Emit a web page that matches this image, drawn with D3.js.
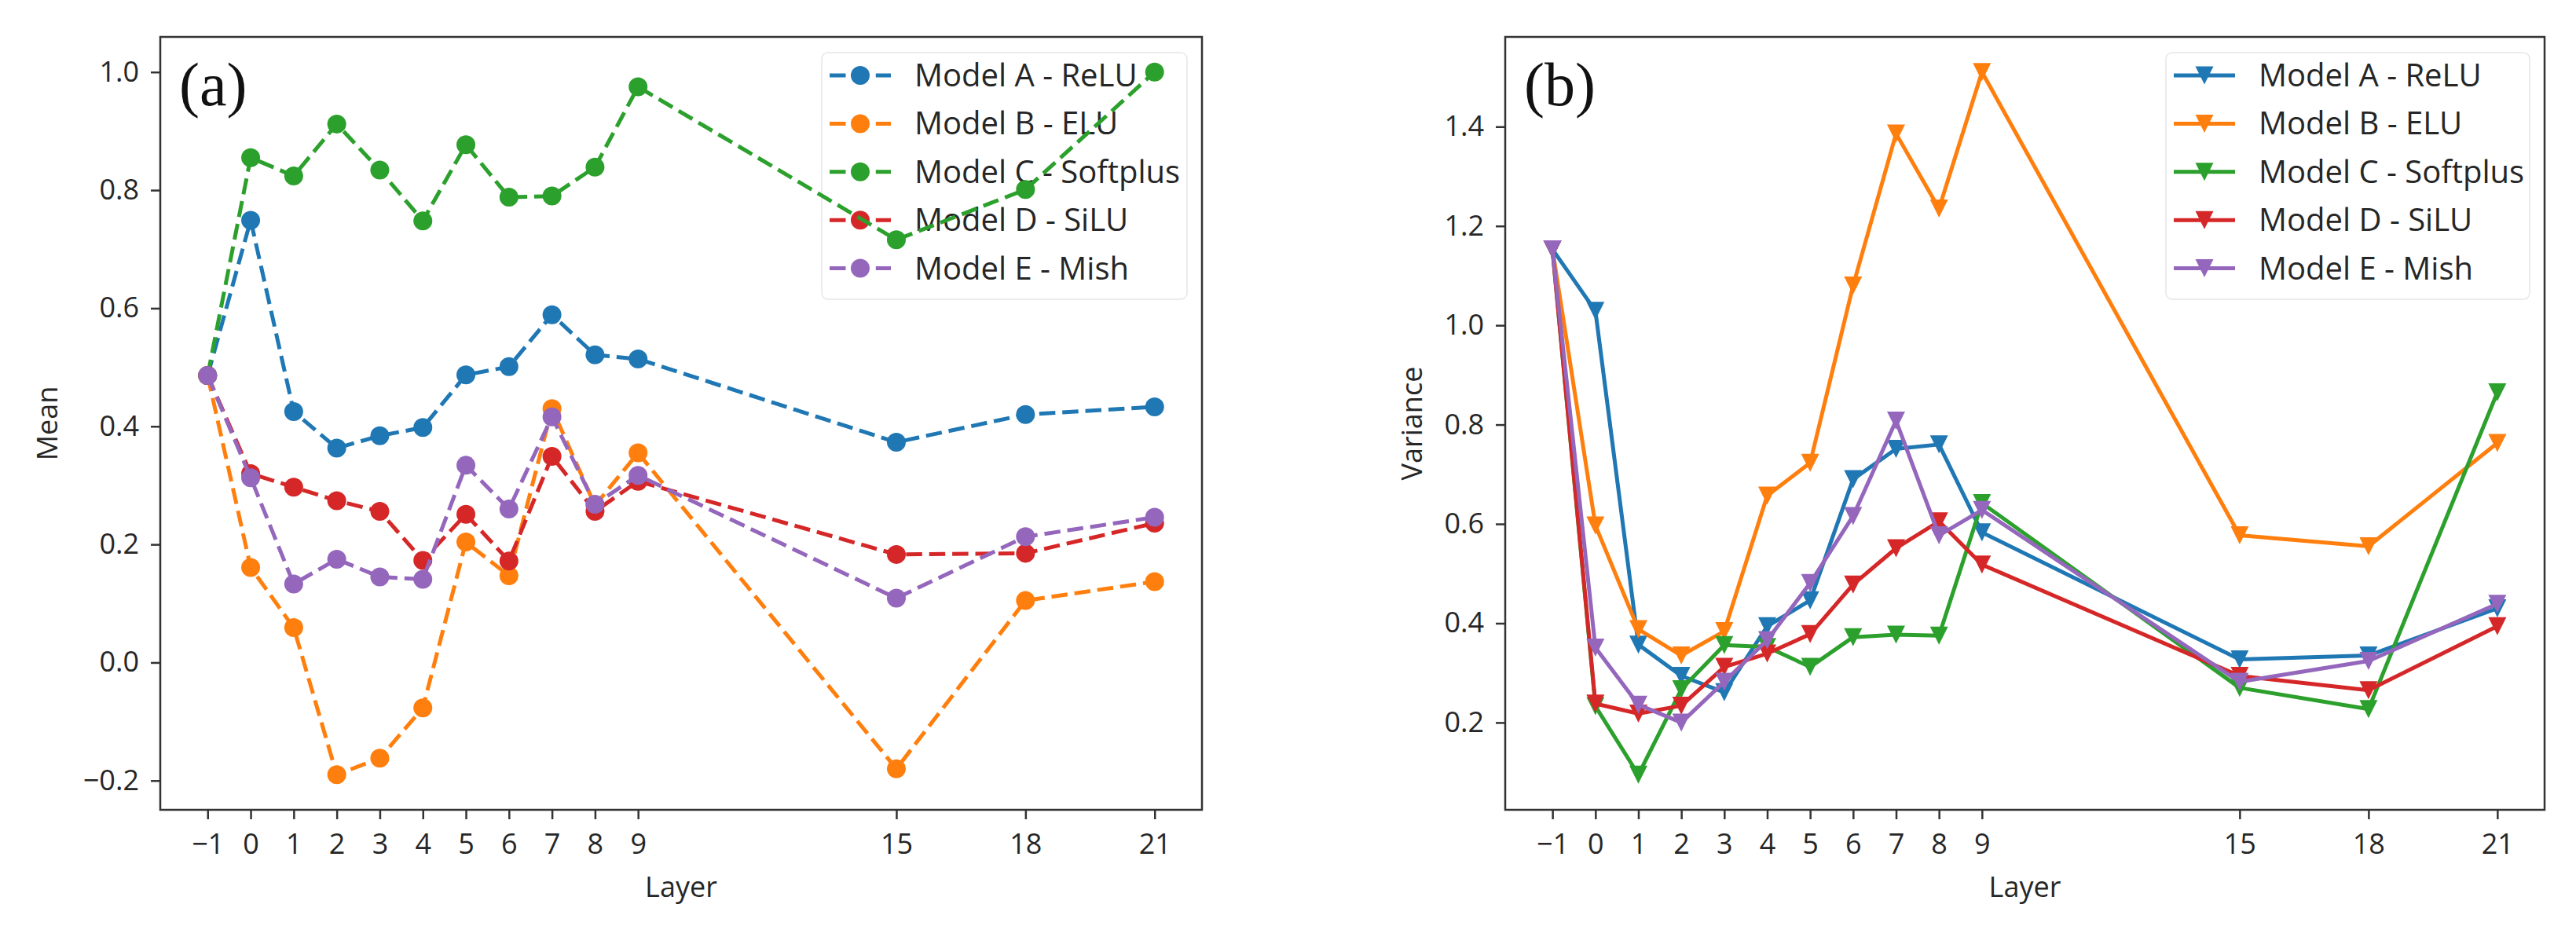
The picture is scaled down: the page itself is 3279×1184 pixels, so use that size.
<html>
<head>
<meta charset="utf-8">
<script src="https://cdn.jsdelivr.net/npm/d3@7"></script>
<style>
  body { margin: 0; background: #fff; }
</style>
</head>
<body>
<div id="chart"></div>
<script>
// ---- data ----
const layers = [-1, 0, 1, 2, 3, 4, 5, 6, 7, 8, 9, 15, 18, 21];
const models = ["Model A - ReLU", "Model B - ELU", "Model C - Softplus", "Model D - SiLU", "Model E - Mish"];

// (a) mean per layer
const meanA = [0.486, 0.749, 0.425, 0.363, 0.384, 0.398, 0.487, 0.501, 0.589, 0.521, 0.514, 0.373, 0.420, 0.433];
const meanB = [0.486, 0.161, 0.059, -0.190, -0.162, -0.077, 0.204, 0.147, 0.430, 0.266, 0.355, -0.180, 0.105, 0.137];
const meanC = [0.486, 0.855, 0.824, 0.912, 0.834, 0.748, 0.877, 0.788, 0.790, 0.839, 0.975, 0.716, 0.801, 1.000];
const meanD = [0.486, 0.320, 0.297, 0.274, 0.256, 0.173, 0.251, 0.172, 0.349, 0.256, 0.307, 0.183, 0.185, 0.236];
const meanE = [0.486, 0.313, 0.133, 0.175, 0.145, 0.141, 0.334, 0.260, 0.416, 0.268, 0.317, 0.109, 0.213, 0.246];

// (b) variance per layer
const varA = [1.153, 1.029, 0.357, 0.294, 0.261, 0.394, 0.446, 0.690, 0.751, 0.760, 0.583, 0.327, 0.335, 0.430];
const varB = [1.153, 0.597, 0.388, 0.335, 0.384, 0.657, 0.723, 1.080, 1.386, 1.235, 1.510, 0.577, 0.555, 0.763];
const varC = [1.153, 0.233, 0.095, 0.267, 0.356, 0.352, 0.312, 0.372, 0.377, 0.375, 0.642, 0.270, 0.227, 0.865];
const varD = [1.153, 0.238, 0.218, 0.234, 0.312, 0.339, 0.378, 0.478, 0.551, 0.605, 0.518, 0.294, 0.265, 0.394];
const varE = [1.153, 0.351, 0.236, 0.200, 0.282, 0.366, 0.481, 0.616, 0.808, 0.577, 0.628, 0.282, 0.324, 0.439];

const meanTicks = [-0.2, 0.0, 0.2, 0.4, 0.6, 0.8, 1.0];
const varTicks = [0.2, 0.4, 0.6, 0.8, 1.0, 1.2, 1.4];

// matplotlib tab10
const colors = ["#1f77b4", "#ff7f0e", "#2ca02c", "#d62728", "#9467bd"];

const svg = d3.select("#chart").append("svg")
    .attr("width", 3279)
    .attr("height", 1184);

const FONT = "'Open Sans', 'Noto Sans', sans-serif";
const INK = "#262626";

// matplotlib style auto limits: 5% margin each side
function padded(ext) {
    const d = (ext[1] - ext[0]) * 0.05;
    return [ext[0] - d, ext[1] + d];
}

function triangle(cx, cy, h) {
    return `M${cx - h},${cy - h}L${cx + h},${cy - h}L${cx},${cy + h}Z`;
}

function drawPanel(p) {
    const x = d3.scaleLinear().domain(padded(d3.extent(layers))).range([p.left, p.right]);
    const y = d3.scaleLinear().domain(padded(d3.extent(p.series.flat()))).range([p.bottom, p.top]);
    const g = svg.append("g");

    // axes
    const xAxis = d3.axisBottom(x).tickValues(layers).tickFormat(d3.format("d"))
        .tickSize(12).tickPadding(18).tickSizeOuter(0);
    const yAxis = d3.axisLeft(y).tickValues(p.ticks).tickFormat(d3.format(".1f"))
        .tickSize(12).tickPadding(15).tickSizeOuter(0);

    [g.append("g").attr("transform", `translate(0,${p.bottom})`).call(xAxis),
     g.append("g").attr("transform", `translate(${p.left},0)`).call(yAxis)].forEach(ax => {
        ax.select(".domain").remove();
        ax.selectAll(".tick line").attr("stroke", "#333").attr("stroke-width", 2.5);
        ax.selectAll(".tick text").attr("fill", INK)
            .style("font-family", FONT).style("font-size", "36px");
    });

    // axis labels
    g.append("text")
        .attr("transform", `translate(${p.left - p.ylabelGap},${(p.top + p.bottom) / 2}) rotate(-90)`)
        .attr("text-anchor", "middle")
        .attr("fill", INK)
        .style("font-family", FONT).style("font-size", "36px")
        .text(p.ylabel);
    g.append("text")
        .attr("x", (p.left + p.right) / 2)
        .attr("y", 1142)
        .attr("text-anchor", "middle")
        .attr("fill", INK)
        .style("font-family", FONT).style("font-size", "36px")
        .text("Layer");

    // legend (lines are drawn over it, as in the source image)
    const lg = g.append("g");
    lg.append("rect")
        .attr("x", p.legend.x).attr("y", 67)
        .attr("width", p.legend.w).attr("height", 314)
        .attr("rx", 8)
        .attr("fill", "#fff").attr("fill-opacity", 0.8)
        .attr("stroke", "#e6e6e6").attr("stroke-width", 1.5);
    models.forEach((name, i) => {
        const cy = 96 + i * 61.4;
        const hx0 = p.legend.x + 10, hx1 = hx0 + 78, hm = (hx0 + hx1) / 2;
        lg.append("line")
            .attr("x1", hx0).attr("x2", hx1).attr("y1", cy).attr("y2", cy)
            .attr("stroke", colors[i]).attr("stroke-width", 5)
            .attr("stroke-dasharray", p.dashed ? "20.5,8.9" : null);
        if (p.marker === "circle") {
            lg.append("circle").attr("cx", hm).attr("cy", cy).attr("r", 12).attr("fill", colors[i]);
        } else {
            lg.append("path").attr("d", triangle(hm, cy, 11.5)).attr("fill", colors[i]);
        }
        lg.append("text")
            .attr("x", hx1 + 30).attr("y", cy + 14)
            .attr("fill", INK)
            .style("font-family", FONT).style("font-size", "40px")
            .text(name);
    });

    // series: line then markers, one model after another
    const line = d3.line().x((d, i) => x(layers[i])).y(d => y(d));
    p.series.forEach((vals, k) => {
        const sg = g.append("g");
        sg.append("path")
            .attr("d", line(vals))
            .attr("fill", "none")
            .attr("stroke", colors[k])
            .attr("stroke-width", 5)
            .attr("stroke-linejoin", "round")
            .attr("stroke-dasharray", p.dashed ? "20.5,8.9" : null);
        if (p.marker === "circle") {
            sg.selectAll("circle").data(vals).enter().append("circle")
                .attr("cx", (d, i) => x(layers[i]))
                .attr("cy", d => y(d))
                .attr("r", 12)
                .attr("fill", colors[k]);
        } else {
            sg.selectAll("path.m").data(vals).enter().append("path")
                .attr("class", "m")
                .attr("d", (d, i) => triangle(x(layers[i]), y(d), 11.5))
                .attr("fill", colors[k]);
        }
    });

    // frame
    g.append("rect")
        .attr("x", p.left).attr("y", p.top)
        .attr("width", p.right - p.left).attr("height", p.bottom - p.top)
        .attr("fill", "none").attr("stroke", "#333").attr("stroke-width", 2.5);

    // panel tag
    g.append("text")
        .attr("x", p.left + 24).attr("y", 134)
        .attr("fill", "#111")
        .style("font-family", "'Liberation Serif', 'DejaVu Serif', serif")
        .style("font-size", "78px")
        .text(p.tag);
}

drawPanel({
    left: 204, right: 1530, top: 47, bottom: 1031,
    series: [meanA, meanB, meanC, meanD, meanE],
    ticks: meanTicks, ylabel: "Mean", ylabelGap: 131,
    dashed: true, marker: "circle", tag: "(a)",
    legend: { x: 1046, w: 465 }
});

drawPanel({
    left: 1916, right: 3239, top: 47, bottom: 1031,
    series: [varA, varB, varC, varD, varE],
    ticks: varTicks, ylabel: "Variance", ylabelGap: 106,
    dashed: false, marker: "triangle", tag: "(b)",
    legend: { x: 2757, w: 463 }
});
</script>
</body>
</html>
